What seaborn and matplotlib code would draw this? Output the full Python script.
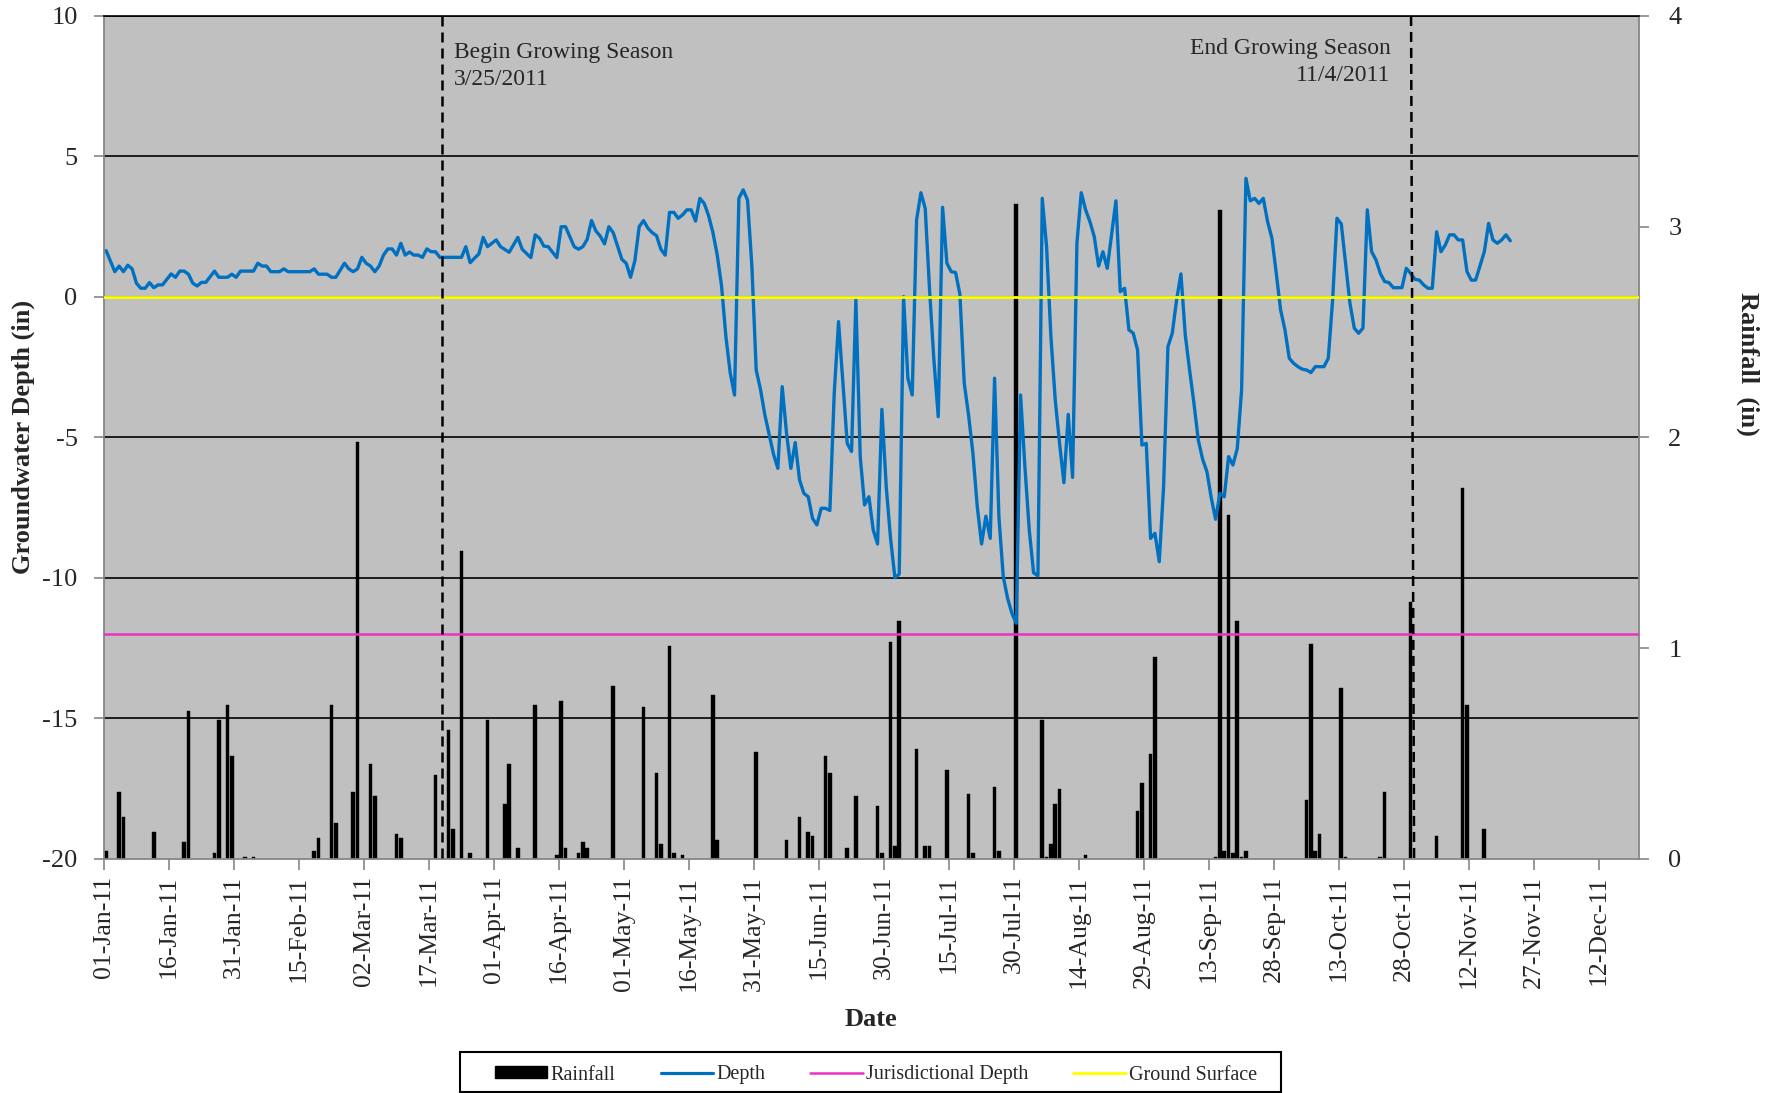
import numpy as np
import matplotlib
matplotlib.use("Agg")
import matplotlib.pyplot as plt
from matplotlib.patches import Patch, Rectangle
from matplotlib.lines import Line2D
import seaborn as sns

# ---------------- data (day 0 = 01-Jan-2011) ----------------
depth_day = [0, 2, 3, 4, 5, 6, 7, 8, 9, 10, 11, 12, 13, 15, 16, 17, 18, 19, 20, 21,
             22, 23, 25, 26, 28, 29, 30, 31, 34, 35, 36, 37, 38, 40, 41, 42, 47, 48, 49, 51,
             52, 53, 55, 56, 57, 58, 59, 60, 61, 62, 63, 64, 65, 66, 67, 68, 69, 70, 71, 72,
             73, 74, 75, 76, 77, 82, 83, 84, 85, 86, 87, 88, 90, 91, 93, 95, 96, 98, 99, 100,
             101, 102, 104, 105, 106, 108, 109, 110, 111, 112, 113, 114, 115, 116, 117, 119, 120, 121, 122, 123,
             124, 125, 126, 127, 128, 129, 130, 131, 132, 133, 134, 135, 136, 137, 138, 139, 140, 141, 142, 143,
             144, 145, 146, 147, 148, 149, 150, 151, 152, 153, 154, 155, 156, 157, 158, 159, 160, 161, 162, 163,
             164, 165, 166, 167, 168, 169, 170, 171, 172, 173, 174, 175, 176, 177, 178, 179, 180, 181, 182, 183,
             184, 185, 186, 187, 188, 189, 190, 191, 192, 193, 194, 195, 196, 197, 198, 199, 200, 201, 202, 203,
             204, 205, 206, 207, 208, 209, 210, 211, 212, 213, 214, 215, 216, 217, 218, 219, 220, 221, 222, 223,
             224, 225, 226, 227, 228, 229, 230, 231, 232, 233, 234, 235, 236, 237, 238, 239, 240, 241, 242, 243,
             244, 245, 246, 247, 248, 249, 250, 251, 252, 253, 254, 255, 256, 257, 258, 259, 260, 261, 262, 263,
             264, 265, 266, 267, 268, 269, 270, 271, 272, 273, 274, 275, 276, 277, 278, 279, 281, 282, 283, 284,
             285, 286, 287, 288, 289, 290, 291, 292, 293, 294, 295, 296, 297, 299, 300, 301, 302, 303, 304, 305,
             306, 307, 308, 309, 310, 311, 312, 313, 314, 315, 316, 318, 319, 320, 321, 322, 323, 324]
depth_in = [1.65, 0.9, 1.1, 0.9, 1.13, 1.0, 0.49, 0.31, 0.31, 0.51, 0.33, 0.43, 0.43, 0.82, 0.70, 0.92, 0.92, 0.81, 0.49, 0.39,
            0.52, 0.52, 0.92, 0.70, 0.70, 0.81, 0.70, 0.92, 0.92, 1.2, 1.1, 1.1, 0.9, 0.9, 1.0, 0.9, 0.9, 1.0, 0.81, 0.81,
            0.70, 0.70, 1.2, 1.0, 0.9, 1.0, 1.41, 1.2, 1.1, 0.9, 1.1, 1.49, 1.71, 1.71, 1.49, 1.91, 1.49, 1.6, 1.49, 1.49,
            1.41, 1.71, 1.61, 1.61, 1.41, 1.41, 1.79, 1.22, 1.38, 1.53, 2.12, 1.79, 2.03, 1.79, 1.59, 2.12, 1.7, 1.40, 2.21, 2.09,
            1.81, 1.79, 1.40, 2.50, 2.50, 1.79, 1.7, 1.79, 2.05, 2.72, 2.35, 2.17, 1.89, 2.50, 2.29, 1.34, 1.20, 0.70, 1.29, 2.50,
            2.72, 2.45, 2.29, 2.18, 1.7, 1.49, 3.01, 3.01, 2.80, 2.92, 3.1, 3.1, 2.70, 3.51, 3.33, 2.9, 2.3, 1.5, 0.4, -1.4,
            -2.7, -3.49, 3.51, 3.81, 3.45, 1.1, -2.6, -3.3, -4.2, -4.9, -5.6, -6.1, -3.19, -4.85, -6.10, -5.18, -6.51, -6.99, -7.11, -7.88,
            -8.11, -7.52, -7.52, -7.60, -3.43, -0.88, -3.07, -5.21, -5.50, -0.11, -5.68, -7.40, -7.11, -8.29, -8.79, -4.0, -6.75, -8.59, -9.99, -9.86,
            0.01, -2.89, -3.49, 2.74, 3.71, 3.15, 0.25, -2.24, -4.26, 3.19, 1.2, 0.9, 0.87, 0.1, -3.07, -4.2, -5.56, -7.45, -8.79, -7.8,
            -8.59, -2.89, -7.82, -9.95, -10.72, -11.26, -11.61, -3.49, -6.04, -8.29, -9.81, -9.93, 3.51, 1.79, -1.41, -3.67, -5.21, -6.61, -4.18, -6.42,
            1.91, 3.71, 3.1, 2.68, 2.15, 1.10, 1.61, 1.02, 2.21, 3.42, 0.19, 0.31, -1.17, -1.29, -1.89, -5.27, -5.21, -8.59, -8.41, -9.42,
            -6.75, -1.77, -1.29, -0.11, 0.82, -1.35, -2.60, -3.78, -5.09, -5.77, -6.22, -7.15, -7.91, -6.99, -7.11, -5.68, -5.98, -5.39, -3.31, 4.22,
            3.42, 3.51, 3.33, 3.51, 2.68, 2.09, 0.84, -0.46, -1.17, -2.18, -2.36, -2.48, -2.57, -2.60, -2.69, -2.48, -2.48, -2.18, -0.11, 2.80,
            2.60, 1.2, -0.23, -1.11, -1.29, -1.11, 3.1, 1.61, 1.32, 0.84, 0.55, 0.51, 0.33, 0.33, 1.02, 0.84, 0.63, 0.60, 0.43, 0.31,
            0.31, 2.32, 1.61, 1.85, 2.21, 2.21, 2.03, 2.03, 0.9, 0.60, 0.60, 1.61, 2.62, 2.03, 1.91, 2.03, 2.21, 2.0]

rain_day = [0, 3, 4, 11, 18, 19, 25, 26, 28, 29, 32, 34, 48, 49, 52, 53, 57, 58, 61, 62,
            67, 68, 76, 79, 80, 82, 84, 88, 92, 93, 95, 99, 104, 105, 106, 109, 110, 111, 117, 124,
            127, 128, 130, 131, 133, 140, 141, 150, 157, 160, 162, 163, 166, 167, 171, 173, 178, 179, 181, 182,
            183, 187, 189, 190, 194, 199, 200, 205, 206, 210, 216, 217, 218, 219, 220, 226, 238, 239, 241, 242,
            256, 257, 258, 259, 260, 261, 262, 263, 277, 278, 279, 280, 285, 286, 294, 295, 301, 307, 313, 314, 318]
rain_in = [0.04, 0.32, 0.20, 0.13, 0.08, 0.70, 0.03, 0.66, 0.73, 0.49, 0.01, 0.01, 0.04, 0.10, 0.73, 0.17, 0.32, 1.98, 0.45, 0.30,
           0.12, 0.10, 0.40, 0.61, 0.14, 1.46, 0.03, 0.66, 0.26, 0.45, 0.05, 0.73, 0.02, 0.75, 0.05, 0.03, 0.08, 0.05, 0.82, 0.72,
           0.41, 0.07, 1.01, 0.03, 0.02, 0.78, 0.09, 0.51, 0.09, 0.20, 0.13, 0.11, 0.49, 0.41, 0.05, 0.30, 0.25, 0.03, 1.03, 0.06,
           1.13, 0.52, 0.06, 0.06, 0.42, 0.31, 0.03, 0.34, 0.04, 3.11, 0.66, 0.01, 0.07, 0.26, 0.33, 0.02, 0.23, 0.36, 0.50, 0.96,
           0.01, 3.08, 0.04, 1.63, 0.03, 1.13, 0.01, 0.04, 0.28, 1.02, 0.04, 0.12, 0.81, 0.01, 0.01, 0.32, 1.22, 0.11, 1.76, 0.73, 0.14]

jurisdictional_depth = -12
ground_surface = 0

x_tick_labels = ["01-Jan-11", "16-Jan-11", "31-Jan-11", "15-Feb-11", "02-Mar-11", "17-Mar-11",
                 "01-Apr-11", "16-Apr-11", "01-May-11", "16-May-11", "31-May-11", "15-Jun-11",
                 "30-Jun-11", "15-Jul-11", "30-Jul-11", "14-Aug-11", "29-Aug-11", "13-Sep-11",
                 "28-Sep-11", "13-Oct-11", "28-Oct-11", "12-Nov-11", "27-Nov-11", "12-Dec-11"]
depth_ticks = [-20, -15, -10, -5, 0, 5, 10]
depth_tick_labels = ["-20", "-15", "-10", "-5", "0", "5", "10"]
rain_ticks = [0, 1, 2, 3, 4]

# ---------------- style ----------------
sns.set_style("ticks")
plt.rcParams["font.family"] = ["Liberation Serif", "DejaVu Serif"]
plt.rcParams["axes.unicode_minus"] = False

GRAY = "#868686"
BLUE = "#0070C0"
PINK = "#EE2FC4"
YELLOW = "#FFFF00"

fig = plt.figure(figsize=(17.8, 10.93), dpi=100)
ax = fig.add_axes([0.0584, 0.2141, 0.8624, 0.7713])
ax2 = ax.twinx()
ax.set_zorder(2)
ax2.set_zorder(1)
ax.patch.set_visible(False)
ax2.patch.set_visible(True)
ax2.patch.set_facecolor("#C0C0C0")

# rainfall bars (right axis)
sns.barplot(x=np.array(rain_day) + 0.5, y=rain_in, native_scale=True, width=0.85,
            color="black", edgecolor="black", linewidth=0.3, errorbar=None, ax=ax2,
            saturation=1)

# depth line (left axis)
sns.lineplot(x=np.array(depth_day) + 0.5, y=depth_in, color=BLUE, linewidth=2.4,
             ax=ax, estimator=None, sort=False)
ax.axhline(jurisdictional_depth, color=PINK, linewidth=1.8, zorder=3)
ax.axhline(ground_surface, color=YELLOW, linewidth=2.0, zorder=3)

# growing season markers
season_begin_x = 77.9
season_end_top_x, season_end_bottom_x = 301.6, 302.3
ax.plot([season_begin_x, season_begin_x], [10, -20], color="black", lw=1.8,
        dashes=(4, 2.4), zorder=4)
ax.plot([season_end_top_x, season_end_bottom_x], [10, -20], color="black", lw=1.8,
        dashes=(4, 2.4), zorder=4)
ax.text(80.8, 8.22, "Begin Growing Season\n3/25/2011", ha="left", va="center",
        fontsize=17, linespacing=1.42, multialignment="left")
ax.text(296.8, 8.36, "End Growing Season\n11/4/2011", ha="right", va="center",
        fontsize=17, linespacing=1.42, multialignment="right")

# axes
x_max = 354.2
ax.set_xlim(0, x_max)
ax2.set_xlim(0, x_max)
ax.set_ylim(-20, 10)
ax2.set_ylim(0, 4)
ax.set_xticks(np.arange(len(x_tick_labels)) * 15)
ax.set_xticklabels(x_tick_labels, rotation=90, fontsize=18.5)
ax.set_yticks(depth_ticks)
ax.set_yticklabels(depth_tick_labels, fontsize=19)
ax2.set_yticks(rain_ticks)
ax2.set_yticklabels([str(t) for t in rain_ticks], fontsize=19)
ax.grid(axis="y", color="black", linewidth=1.2)
ax.get_ygridlines()[0].set_visible(False)
ax.grid(axis="x", visible=False)
ax2.grid(False)
ax.set_xlabel("")
ax.set_ylabel("")
ax2.set_xlabel("")
ax2.set_ylabel("")

ax.tick_params(axis="x", direction="out", length=8, width=1.2, color=GRAY, pad=4)
ax.tick_params(axis="y", direction="out", length=7, width=1.2, color=GRAY, pad=12)
ax2.tick_params(axis="y", direction="out", length=7, width=1.2, color=GRAY, pad=14)
for side in ["left", "bottom", "right"]:
    ax.spines[side].set_color(GRAY)
    ax.spines[side].set_linewidth(1.3)
ax.spines["top"].set_color("black")
ax.spines["top"].set_linewidth(1.2)
for side in ax2.spines:
    ax2.spines[side].set_visible(False)

fig.text(23 / 1780, 1 - 437 / 1093, "Groundwater Depth (in)", rotation=90,
         ha="center", va="center", fontsize=19, fontweight="bold")
fig.text(1748 / 1780, 1 - 364 / 1093, "Rainfall  (in)", rotation=270,
         ha="center", va="center", fontsize=19, fontweight="bold")
fig.text(871 / 1780, 1 - 1019 / 1093, "Date", ha="center", va="center",
         fontsize=19, fontweight="bold")

# legend (frame drawn separately to match the wide side padding)
handles = [Patch(facecolor="black", edgecolor="black"),
           Line2D([], [], color=BLUE, lw=2.3),
           Line2D([], [], color=PINK, lw=1.8),
           Line2D([], [], color=YELLOW, lw=2.0)]
labels = ["Rainfall", "Depth", "Jurisdictional Depth", "Ground Surface"]
leg = fig.legend(handles, labels, ncol=4, loc="center",
                 bbox_to_anchor=(876 / 1780, 1 - 1075 / 1093),
                 fontsize=14.5, frameon=False, handlelength=2.6, handleheight=0.55,
                 handletextpad=0.15, columnspacing=2.25, borderpad=0, borderaxespad=0)
fig.patches.append(Rectangle((460 / 1780, 1 - 1092 / 1093), 821 / 1780, 40 / 1093,
                             transform=fig.transFigure, fill=False,
                             edgecolor="black", linewidth=1.5))

fig.savefig("out.png", dpi=100, facecolor="white")
